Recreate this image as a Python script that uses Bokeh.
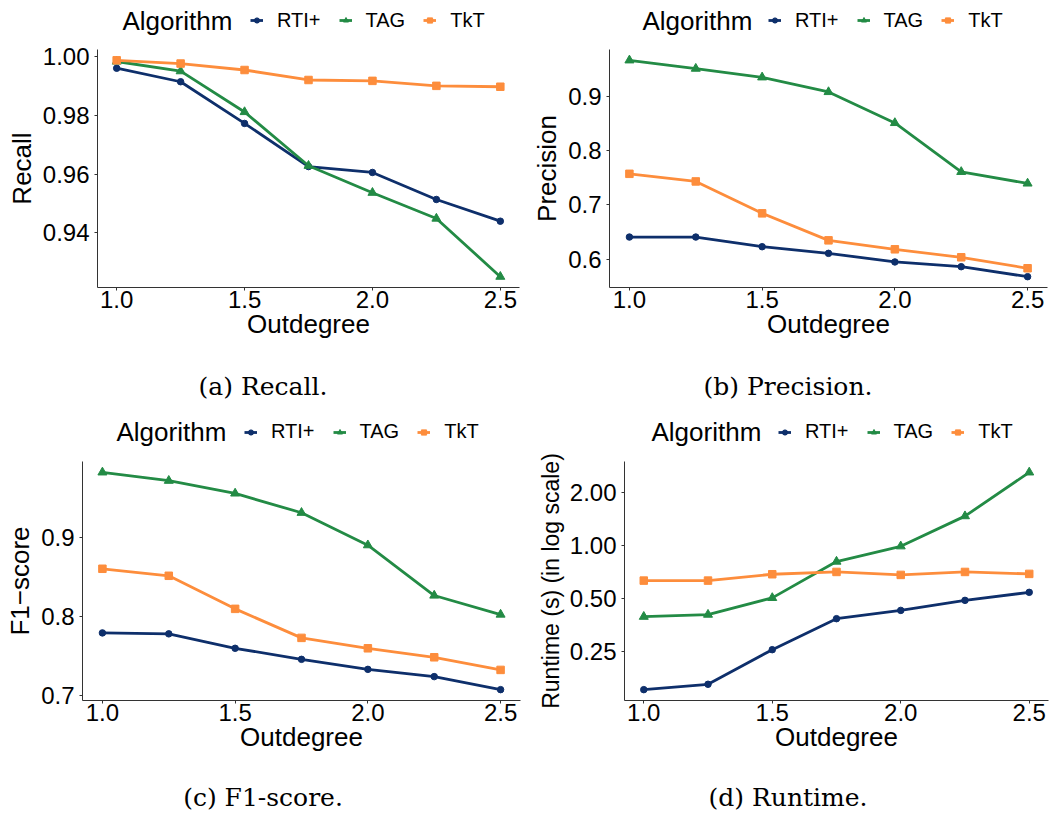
import math
from bokeh.plotting import figure
from bokeh.layouts import column, row
from bokeh.models import (Legend, LegendItem, FixedTicker, NumeralTickFormatter,
                          Range1d, Label)
from bokeh.core.properties import value
from bokeh.embed import file_html
from bokeh.resources import INLINE

# ---------------- data ----------------
outdegree = [1.0, 1.25, 1.5, 1.75, 2.0, 2.25, 2.5]
algorithms = ["RTI+", "TAG", "TkT"]

recall_rti = [0.9961, 0.9915, 0.9773, 0.9626, 0.9606, 0.9514, 0.9440]
recall_tag = [0.9984, 0.9951, 0.9812, 0.9629, 0.9537, 0.9449, 0.9251]
recall_tkt = [0.9988, 0.9977, 0.9955, 0.9921, 0.9918, 0.9901, 0.9898]

precision_rti = [0.6408, 0.6408, 0.6230, 0.6108, 0.5949, 0.5862, 0.5678]
precision_tag = [0.9662, 0.9509, 0.9349, 0.9079, 0.8509, 0.7608, 0.7395]
precision_tkt = [0.7572, 0.7432, 0.6844, 0.6347, 0.6182, 0.6035, 0.5833]

f1_rti = [0.7794, 0.7782, 0.7599, 0.7459, 0.7332, 0.7240, 0.7075]
f1_tag = [0.9829, 0.9723, 0.9562, 0.9317, 0.8906, 0.8268, 0.8027]
f1_tkt = [0.8607, 0.8518, 0.8099, 0.7731, 0.7599, 0.7485, 0.7325]

runtime_rti = [0.151, 0.162, 0.255, 0.383, 0.427, 0.487, 0.541]
runtime_tag = [0.393, 0.404, 0.503, 0.810, 0.990, 1.470, 2.610]
runtime_tkt = [0.631, 0.631, 0.686, 0.707, 0.680, 0.707, 0.689]

x_ticks = [1.0, 1.5, 2.0, 2.5]
recall_ticks = [0.94, 0.96, 0.98, 1.00]
precision_ticks = [0.6, 0.7, 0.8, 0.9]
f1_ticks = [0.7, 0.8, 0.9]
runtime_ticks = [0.25, 0.5, 1.0, 2.0]

# ---------------- style ----------------
colors = ["#0e2f6b", "#238b45", "#fd8d3c"]
markers = ["circle", "triangle", "square"]
marker_sizes = [6.5, 9, 7.5]
SANS = "Liberation Sans"
SERIF = "DejaVu Serif"
AXIS_COLOR = "#333333"
TICK_SIZE = "24px"
TITLE_SIZE = "26px"


def bare(width, height, xr, yr):
    f = figure(width=width, height=height, x_range=xr, y_range=yr,
               x_axis_type=None, y_axis_type=None, output_backend="svg",
               toolbar_location=None, min_border=0)
    f.outline_line_color = None
    f.grid.visible = False
    return f


def header(series, width, height, center_from_top, title_x, glyph_x):
    h = bare(width, height, Range1d(0, width), Range1d(0, height))
    cy = height - center_from_top
    lines, points = [], []
    for ys, color in zip(series, colors):
        lines.append(h.line(outdegree, ys, line_color=color, line_width=2.8, visible=False))
    for ys, color, marker, size in zip(series, colors, markers, marker_sizes):
        points.append(h.scatter(outdegree, ys, marker=marker, size=size,
                                fill_color=color, line_color=color, visible=False))
    h.add_layout(Label(x=title_x, y=cy, text="Algorithm", text_font=SANS,
                       text_font_size="26px", text_color="black",
                       text_align="left", text_baseline="middle"))
    items = [LegendItem(label=name, renderers=[l, s])
             for name, l, s in zip(algorithms, lines, points)]
    legend = Legend(items=items, location=(glyph_x, cy - 11.5),
                    orientation="horizontal", padding=0, margin=0, spacing=18,
                    glyph_width=13, glyph_height=14, label_standoff=14,
                    label_text_font=SANS, label_text_font_size="20px",
                    label_text_color="black",
                    border_line_color=None, background_fill_alpha=0)
    h.add_layout(legend)
    return h


def caption_fig(text, width, height, center_x, center_from_top):
    c = bare(width, height, Range1d(0, 1), Range1d(0, height))
    c.text(x=[center_x], y=[height - center_from_top], text=[text],
           text_font=value(SERIF), text_font_size=value("25px"),
           text_color="black", text_align="center", text_baseline="middle")
    return c


def make_panel(series, y_label, y_ticks, y_format, log,
               width, height, b_left, b_right, b_top, b_bottom,
               y_label_size=TITLE_SIZE):
    allv = [v for s in series for v in s]
    lo, hi = min(allv), max(allv)
    if log:
        llo, lhi = math.log10(lo), math.log10(hi)
        pad = 0.05 * (lhi - llo)
        yr = Range1d(10 ** (llo - pad), 10 ** (lhi + pad))
    else:
        pad = 0.05 * (hi - lo)
        yr = Range1d(lo - pad, hi + pad)
    xpad = 0.05 * (max(outdegree) - min(outdegree))
    xr = Range1d(min(outdegree) - xpad, max(outdegree) + xpad)

    p = figure(width=width, height=height, x_range=xr, y_range=yr,
               y_axis_type="log" if log else "linear",
               output_backend="svg", toolbar_location=None,
               min_border_left=b_left, min_border_right=b_right,
               min_border_top=b_top, min_border_bottom=b_bottom)
    p.outline_line_color = None
    p.grid.visible = False

    for ys, color in zip(series, colors):
        p.line(outdegree, ys, line_color=color, line_width=2.8)
    for ys, color, marker, size in zip(series, colors, markers, marker_sizes):
        p.scatter(outdegree, ys, marker=marker, size=size,
                  fill_color=color, line_color=color)

    p.xaxis.ticker = FixedTicker(ticks=x_ticks)
    p.xaxis.formatter = NumeralTickFormatter(format="0.0")
    p.yaxis.ticker = FixedTicker(ticks=y_ticks)
    p.yaxis.formatter = NumeralTickFormatter(format=y_format)
    for ax in (p.xaxis, p.yaxis):
        ax.axis_line_color = AXIS_COLOR
        ax.axis_line_width = 1
        ax.major_tick_line_color = AXIS_COLOR
        ax.major_tick_out = 3
        ax.major_tick_in = 0
        ax.minor_tick_line_color = None
        ax.major_label_text_font = SANS
        ax.major_label_text_font_size = TICK_SIZE
        ax.major_label_text_color = "black"
        ax.axis_label_text_font = SANS
        ax.axis_label_text_font_size = TITLE_SIZE
        ax.axis_label_text_font_style = "normal"
        ax.axis_label_text_color = "black"
    p.yaxis.axis_label_text_font_size = y_label_size
    p.xaxis.major_label_standoff = 0
    p.xaxis.axis_label_standoff = -2
    p.yaxis.major_label_standoff = 5
    p.yaxis.axis_label_standoff = 3
    p.xaxis.axis_label = "Outdegree"
    p.yaxis.axis_label = y_label
    return p


recall = [recall_rti, recall_tag, recall_tkt]
precision = [precision_rti, precision_tag, precision_tkt]
f1 = [f1_rti, f1_tag, f1_tkt]
runtime = [runtime_rti, runtime_tag, runtime_tkt]

# top row (frames 238 px tall)
ha = header(recall, 525, 40, 20, 122, 250)
hb = header(precision, 525, 40, 20, 117, 243)
pa = make_panel(recall, "Recall", recall_ticks, "0.00", False, 525, 311, 97, 6, 9, 64)
pb = make_panel(precision, "Precision", precision_ticks, "0.0", False, 525, 311, 84, 3, 9, 64)
ca = caption_fig("(a) Recall.", 525, 57, 0.5, 34.5)
cb = caption_fig("(b) Precision.", 525, 57, 0.5, 34.5)

# bottom row (frames 239 px tall)
hc = header(f1, 525, 39, 23.5, 116, 244)
hd = header(runtime, 525, 39, 23.5, 126, 253)
pc = make_panel(f1, "F1\u2212score", f1_ticks, "0.0", False, 525, 317, 82, 5, 14, 64)
pd = make_panel(runtime, "Runtime (s) (in log scale)", runtime_ticks, "0.00", True,
                525, 317, 99, 2, 14, 64, y_label_size="23px")
cc = caption_fig("(c) F1-score.", 525, 52, 0.5, 33)
cd = caption_fig("(d) Runtime.", 525, 52, 0.5, 33)

layout = column(row(ha, hb), row(pa, pb), row(ca, cb),
                row(hc, hd), row(pc, pd), row(cc, cd))
open("out.html", "w").write(file_html(layout, INLINE))
